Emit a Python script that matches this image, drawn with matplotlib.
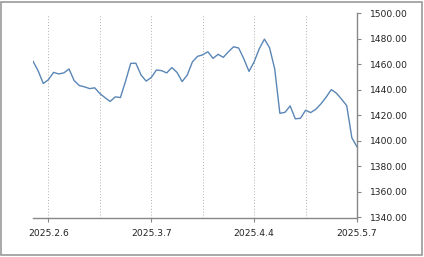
import matplotlib.pyplot as plt

# Daily values (trading days)
values = [1462.6, 1455.0, 1445.1, 1448.1, 1453.8, 1452.6, 1453.4, 1456.5, 1447.4, 1443.5,
          1442.5, 1441.1, 1441.7, 1437.2, 1434.0, 1431.0, 1434.6, 1434.1, 1447.0, 1460.9,
          1461.0, 1451.8, 1447.0, 1449.8, 1455.7, 1455.2, 1453.4, 1457.6, 1453.8, 1446.6,
          1451.8, 1462.1, 1466.4, 1467.6, 1470.0, 1464.8, 1468.0, 1465.6, 1470.0, 1473.9,
          1472.9, 1464.4, 1454.6, 1462.1, 1472.4, 1479.9, 1473.1, 1456.5, 1421.7, 1422.5,
          1427.5, 1417.4, 1417.8, 1424.1, 1422.3, 1424.9, 1429.2, 1434.4, 1440.3, 1437.5,
          1432.8, 1427.7, 1402.5, 1395.4]
label_idx = [3, 23, 43, 63]
date_labels = ['2025.2.6', '2025.3.7', '2025.4.4', '2025.5.7']
grid_idx = [13, 33, 53]
y_ticks = [1340, 1360, 1380, 1400, 1420, 1440, 1460, 1480, 1500]

fig = plt.figure(figsize=(4.24, 2.57), dpi=100)
# grey frame round the whole figure
fig.patches.append(plt.Rectangle((0.003, 0.006), 0.993, 0.988, transform=fig.transFigure,
                                 fill=False, edgecolor='#9a9a9a', linewidth=1.2))

ax = fig.add_axes([33 / 424, (257 - 217.5) / 257, 324 / 424, 204 / 257])
ax.plot(range(len(values)), values, color='#5a86b6', linewidth=1.0)

ax.set_xlim(0, len(values) - 1)
ax.set_ylim(1340, 1500)

ax.set_xticks(label_idx)
ax.set_xticklabels(date_labels)
ax.set_xticks(grid_idx, minor=True)
ax.set_yticks(y_ticks)
ax.set_yticklabels([f'{v:.2f}' for v in y_ticks])

ax.yaxis.tick_right()
ax.tick_params(axis='x', which='major', length=3, pad=5, color='#888888',
               labelsize=6.6, labelcolor='#222222')
ax.tick_params(axis='x', which='minor', length=0)
ax.tick_params(axis='y', length=3, pad=6, color='#888888', labelsize=6.6,
               labelcolor='#222222')

ax.grid(axis='x', which='both', linestyle=(0, (1, 2)), color='#b0b0b0', linewidth=0.7)

for side in ['top', 'left']:
    ax.spines[side].set_visible(False)
for side in ['bottom', 'right']:
    ax.spines[side].set_color('#888888')
    ax.spines[side].set_linewidth(1.0)

fig.savefig('out.png', dpi=100)
